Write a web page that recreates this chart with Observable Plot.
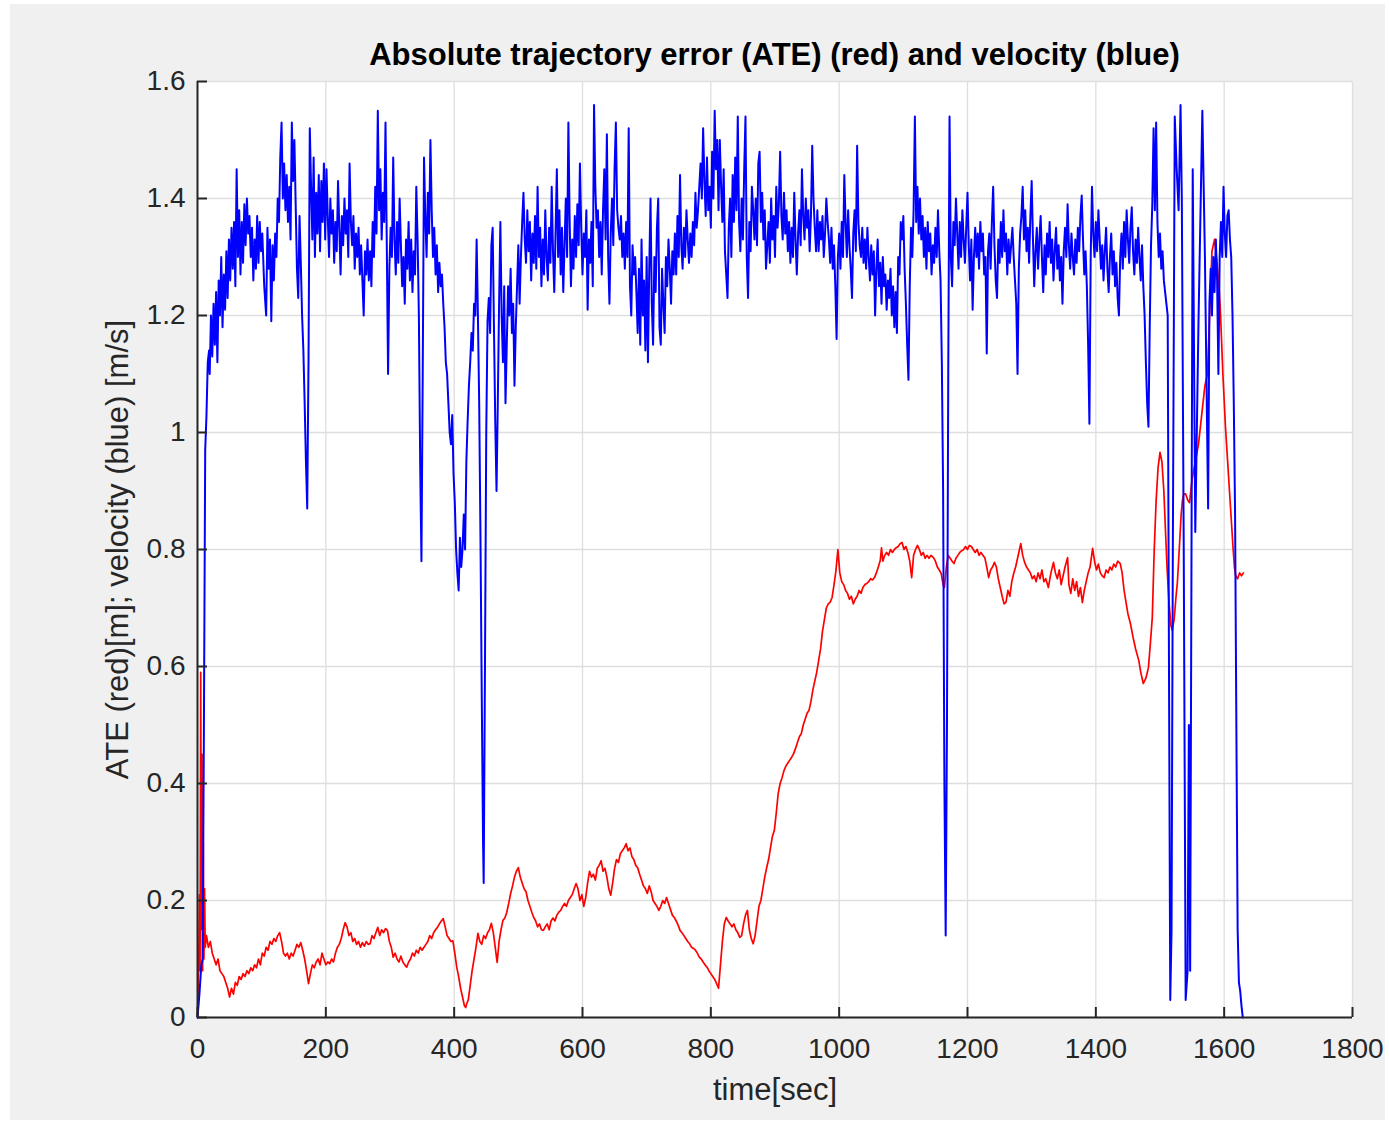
<!DOCTYPE html>
<html>
<head>
<meta charset="utf-8">
<script src="https://cdn.jsdelivr.net/npm/d3@7"></script>
<script src="https://cdn.jsdelivr.net/npm/@observablehq/plot@0.6"></script>
<style>
  html, body { margin: 0; padding: 0; background: #ffffff; }
  #fig { position: absolute; left: 10px; top: 4px; width: 1375px; height: 1116px; background: #f0f0f0; font-family: "Liberation Sans", Arial, Helvetica, sans-serif; }
  #title { position: absolute; left: 187px; width: 1155px; top: 33px; line-height: 36px; text-align: center; font-weight: bold; font-size: 31px; color: #000; z-index: 2; }
  #chart { position: absolute; left: 0; top: 56px; }
</style>
</head>
<body>
<div id="fig">
  <div id="title">Absolute trajectory error (ATE) (red) and velocity (blue)</div>
  <div id="chart"></div>
</div>
<script>
const titleText = "Absolute trajectory error (ATE) (red) and velocity (blue)";
const xLabel = "time[sec]";
const yLabel = "ATE (red)[m]; velocity (blue) [m/s]";
const xTicks = [0, 200, 400, 600, 800, 1000, 1200, 1400, 1600, 1800];
const yTicks = [0, 0.2, 0.4, 0.6, 0.8, 1, 1.2, 1.4, 1.6];

// velocity (blue): [time s, m/s]
const velocity = [
[0,0],[3,0.04],[6,0.09],[8,0.1],[10,0.5],[12,0.97],[14,1.03],[16,1.12],[18,1.14],[19,1.1],[21,1.2],[23,1.13],[25,1.22],[27,1.15],[29,1.24],[31,1.12],[33,1.26],[35,1.2],[37,1.3],[39,1.18],
[41,1.27],[43,1.21],[45,1.31],[47,1.23],[49,1.33],[51,1.26],[53,1.35],[55,1.28],[57,1.36],[59,1.25],[61,1.45],[63,1.3],[65,1.38],[67,1.27],[69,1.36],[71,1.29],[73,1.39],[75,1.32],[77,1.4],[79,1.34],
[81,1.37],[83,1.3],[85,1.35],[87,1.26],[89,1.33],[91,1.28],[93,1.37],[95,1.29],[97,1.36],[99,1.31],[101,1.34],[104,1.25],[107,1.2],[109,1.35],[111,1.28],[113,1.33],[115,1.19],[117,1.32],[119,1.26],[121,1.34],
[123,1.3],[125,1.4],[127,1.36],[129,1.47],[131,1.53],[133,1.4],[135,1.46],[137,1.38],[139,1.44],[141,1.36],[143,1.42],[145,1.33],[147,1.53],[149,1.43],[151,1.5],[153,1.39],[155,1.28],[157,1.23],[159,1.37],[161,1.29],
[163,1.2],[165,1.14],[167,1.05],[169,0.95],[171,0.87],[173,1.12],[175,1.52],[177,1.42],[179,1.33],[181,1.47],[183,1.3],[185,1.41],[187,1.34],[189,1.44],[191,1.31],[193,1.43],[195,1.36],[197,1.46],[199,1.33],[201,1.45],
[203,1.37],[205,1.3],[207,1.4],[209,1.34],[211,1.38],[213,1.29],[215,1.36],[217,1.31],[219,1.43],[221,1.35],[223,1.27],[225,1.37],[227,1.32],[229,1.4],[231,1.34],[233,1.38],[235,1.3],[237,1.46],[239,1.36],[241,1.32],
[243,1.37],[245,1.28],[247,1.34],[249,1.3],[251,1.35],[253,1.27],[255,1.32],[257,1.26],[259,1.2],[261,1.31],[263,1.27],[265,1.33],[267,1.26],[269,1.31],[271,1.25],[273,1.36],[275,1.3],[277,1.42],[279,1.34],[281,1.55],
[283,1.38],[285,1.45],[287,1.33],[289,1.41],[291,1.36],[293,1.53],[295,1.32],[297,1.1],[299,1.28],[301,1.35],[303,1.3],[305,1.47],[307,1.33],[309,1.27],[311,1.36],[313,1.29],[315,1.4],[317,1.32],[319,1.25],[321,1.3],
[323,1.22],[325,1.33],[327,1.28],[329,1.36],[331,1.26],[333,1.33],[335,1.24],[337,1.31],[339,1.27],[341,1.42],[343,1.33],[345,1.2],[347,0.95],[349,0.78],[351,1.1],[353,1.47],[355,1.37],[357,1.3],[359,1.41],[361,1.34],
[363,1.5],[365,1.38],[367,1.3],[369,1.35],[371,1.27],[373,1.32],[375,1.24],[377,1.29],[379,1.25],[381,1.27],[383,1.22],[385,1.18],[387,1.12],[389,1.1],[391,1.05],[393,1.0],[395,0.98],[397,1.03],[399,0.93],[401,0.88],
[403,0.8],[405,0.76],[407,0.73],[409,0.82],[411,0.77],[413,0.8],[415,0.86],[417,0.8],[419,0.95],[421,1.02],[423,1.08],[425,1.12],[427,1.17],[429,1.14],[431,1.22],[433,1.2],[435,1.33],[437,1.2],[439,1.05],[441,0.82],
[443,0.55],[445,0.3],[446,0.23],[448,0.6],[450,1.0],[452,1.19],[454,1.23],[456,1.17],[458,1.32],[460,1.35],[462,1.18],[464,1.02],[466,0.9],[468,1.05],[470,1.22],[472,1.36],[474,1.2],[476,1.12],[478,1.25],[480,1.05],
[482,1.15],[484,1.25],[486,1.2],[488,1.28],[490,1.17],[492,1.22],[494,1.08],[496,1.18],[498,1.25],[500,1.32],[502,1.22],[504,1.3],[506,1.36],[508,1.41],[510,1.33],[512,1.29],[514,1.38],[516,1.31],[518,1.36],[520,1.26],
[522,1.34],[524,1.29],[526,1.37],[528,1.28],[530,1.42],[532,1.3],[534,1.35],[536,1.25],[538,1.33],[540,1.27],[542,1.38],[544,1.3],[546,1.26],[548,1.35],[550,1.29],[552,1.42],[554,1.31],[556,1.24],[558,1.34],[560,1.45],
[562,1.3],[564,1.38],[566,1.27],[568,1.35],[570,1.24],[572,1.32],[574,1.4],[576,1.3],[578,1.53],[580,1.36],[582,1.25],[584,1.33],[586,1.28],[588,1.37],[590,1.3],[592,1.39],[594,1.32],[596,1.46],[598,1.35],[600,1.27],
[602,1.34],[604,1.3],[606,1.38],[608,1.21],[610,1.33],[612,1.29],[614,1.36],[616,1.25],[618,1.56],[620,1.42],[622,1.35],[624,1.38],[626,1.3],[628,1.36],[630,1.27],[632,1.38],[634,1.45],[636,1.33],[638,1.51],[640,1.3],
[642,1.22],[644,1.34],[646,1.4],[648,1.32],[650,1.45],[652,1.53],[654,1.38],[656,1.35],[658,1.33],[660,1.37],[662,1.3],[664,1.34],[666,1.28],[668,1.36],[670,1.3],[672,1.52],[674,1.25],[676,1.2],[678,1.32],[680,1.27],
[682,1.3],[684,1.24],[686,1.17],[688,1.28],[690,1.15],[692,1.33],[694,1.2],[696,1.26],[698,1.14],[700,1.3],[702,1.12],[704,1.28],[706,1.4],[708,1.22],[710,1.15],[712,1.3],[714,1.24],[716,1.35],[718,1.4],[720,1.18],
[722,1.15],[724,1.28],[726,1.22],[728,1.17],[730,1.3],[732,1.25],[734,1.33],[736,1.28],[738,1.22],[740,1.31],[742,1.27],[744,1.34],[746,1.27],[748,1.37],[750,1.3],[752,1.44],[754,1.32],[756,1.28],[758,1.35],[760,1.3],
[762,1.38],[764,1.33],[766,1.29],[768,1.34],[770,1.3],[772,1.36],[774,1.32],[776,1.41],[778,1.35],[780,1.38],[782,1.42],[784,1.46],[786,1.4],[788,1.52],[790,1.43],[792,1.37],[794,1.47],[796,1.38],[798,1.42],[800,1.35],
[802,1.48],[804,1.4],[806,1.55],[808,1.45],[810,1.5],[812,1.38],[814,1.5],[816,1.42],[818,1.36],[820,1.45],[822,1.31],[824,1.27],[826,1.23],[828,1.35],[830,1.4],[832,1.3],[834,1.44],[836,1.36],[838,1.47],[840,1.38],
[842,1.54],[844,1.36],[846,1.31],[848,1.4],[850,1.33],[852,1.45],[854,1.54],[856,1.3],[858,1.23],[860,1.36],[862,1.31],[864,1.42],[866,1.38],[868,1.33],[870,1.4],[872,1.32],[874,1.46],[876,1.48],[878,1.36],[880,1.41],
[882,1.33],[884,1.38],[886,1.28],[888,1.32],[890,1.36],[892,1.29],[894,1.4],[896,1.33],[898,1.37],[900,1.3],[902,1.42],[904,1.35],[906,1.39],[908,1.48],[910,1.37],[912,1.33],[914,1.41],[916,1.34],[918,1.38],[920,1.31],
[922,1.36],[924,1.29],[926,1.35],[928,1.3],[930,1.41],[932,1.33],[934,1.27],[936,1.34],[938,1.38],[940,1.32],[942,1.45],[944,1.37],[946,1.33],[948,1.4],[950,1.35],[952,1.38],[954,1.31],[956,1.37],[958,1.49],[960,1.4],
[962,1.35],[964,1.31],[966,1.38],[968,1.31],[970,1.36],[972,1.33],[974,1.37],[976,1.3],[978,1.34],[980,1.4],[982,1.36],[984,1.33],[986,1.29],[988,1.35],[990,1.28],[992,1.32],[994,1.25],[996,1.16],[998,1.3],[1000,1.34],
[1002,1.28],[1004,1.36],[1006,1.3],[1008,1.44],[1010,1.36],[1012,1.3],[1014,1.38],[1016,1.32],[1018,1.28],[1020,1.23],[1022,1.34],[1024,1.38],[1026,1.31],[1028,1.49],[1030,1.36],[1032,1.32],[1034,1.3],[1036,1.35],[1038,1.29],[1040,1.33],
[1042,1.28],[1044,1.35],[1046,1.3],[1048,1.26],[1050,1.32],[1052,1.27],[1054,1.31],[1056,1.2],[1058,1.28],[1060,1.33],[1062,1.25],[1064,1.29],[1066,1.22],[1068,1.3],[1070,1.25],[1072,1.27],[1074,1.21],[1076,1.26],[1078,1.23],[1080,1.28],
[1082,1.2],[1084,1.25],[1086,1.18],[1088,1.24],[1090,1.17],[1092,1.3],[1094,1.27],[1096,1.36],[1098,1.33],[1100,1.37],[1102,1.28],[1104,1.22],[1106,1.15],[1108,1.09],[1110,1.25],[1112,1.35],[1114,1.3],[1116,1.38],[1118,1.54],[1120,1.36],
[1122,1.42],[1124,1.34],[1126,1.4],[1128,1.33],[1130,1.37],[1132,1.3],[1134,1.35],[1136,1.28],[1138,1.36],[1140,1.31],[1142,1.34],[1144,1.27],[1146,1.32],[1148,1.29],[1150,1.35],[1152,1.3],[1154,1.38],[1156,1.31],[1158,1.26],[1160,1.12],
[1162,0.9],[1164,0.4],[1166,0.14],[1168,0.5],[1170,1.1],[1172,1.54],[1174,1.3],[1176,1.25],[1178,1.36],[1180,1.32],[1182,1.4],[1184,1.34],[1186,1.28],[1188,1.36],[1190,1.3],[1192,1.38],[1194,1.33],[1196,1.29],[1198,1.35],[1200,1.41],
[1202,1.32],[1204,1.26],[1206,1.33],[1208,1.21],[1210,1.3],[1212,1.35],[1214,1.3],[1216,1.34],[1218,1.28],[1220,1.36],[1222,1.31],[1224,1.34],[1226,1.27],[1228,1.3],[1230,1.135],[1232,1.31],[1234,1.34],[1236,1.28],[1238,1.36],[1240,1.42],
[1242,1.32],[1244,1.26],[1246,1.23],[1248,1.33],[1250,1.29],[1252,1.36],[1254,1.3],[1256,1.38],[1258,1.31],[1260,1.34],[1262,1.27],[1264,1.33],[1266,1.29],[1268,1.32],[1270,1.35],[1272,1.3],[1274,1.26],[1276,1.22],[1278,1.1],[1280,1.28],
[1282,1.34],[1284,1.37],[1286,1.42],[1288,1.33],[1290,1.38],[1292,1.31],[1294,1.35],[1296,1.29],[1298,1.37],[1300,1.43],[1302,1.33],[1304,1.25],[1306,1.31],[1308,1.35],[1310,1.28],[1312,1.33],[1314,1.37],[1316,1.3],[1318,1.24],[1320,1.32],
[1322,1.27],[1324,1.34],[1326,1.3],[1328,1.36],[1330,1.29],[1332,1.33],[1334,1.26],[1336,1.31],[1338,1.35],[1340,1.28],[1342,1.32],[1344,1.26],[1346,1.3],[1348,1.22],[1350,1.31],[1352,1.35],[1354,1.3],[1356,1.39],[1358,1.32],[1360,1.28],
[1362,1.34],[1364,1.3],[1366,1.27],[1368,1.33],[1370,1.29],[1372,1.35],[1374,1.31],[1376,1.37],[1378,1.405],[1380,1.33],[1382,1.27],[1384,1.31],[1386,1.25],[1388,1.15],[1390,1.015],[1392,1.3],[1394,1.42],[1396,1.34],[1398,1.3],[1400,1.36],
[1402,1.31],[1404,1.38],[1406,1.33],[1408,1.28],[1410,1.32],[1412,1.26],[1414,1.31],[1416,1.35],[1418,1.28],[1420,1.24],[1422,1.3],[1424,1.34],[1426,1.27],[1428,1.31],[1430,1.25],[1432,1.29],[1434,1.23],[1436,1.2],[1438,1.3],[1440,1.34],
[1442,1.28],[1444,1.36],[1446,1.3],[1448,1.38],[1450,1.33],[1452,1.29],[1454,1.35],[1456,1.385],[1458,1.31],[1460,1.27],[1462,1.33],[1464,1.29],[1466,1.35],[1468,1.3],[1470,1.26],[1472,1.32],[1474,1.25],[1476,1.2],[1478,1.12],[1480,1.05],
[1482,1.01],[1484,1.18],[1486,1.32],[1488,1.39],[1490,1.52],[1492,1.38],[1494,1.53],[1496,1.36],[1498,1.3],[1500,1.34],[1502,1.28],[1504,1.31],[1506,1.26],[1508,1.24],[1510,1.22],[1512,1.2],[1514,0.6],[1516,0.03],[1518,0.15],[1520,0.8],
[1523,1.54],[1526,1.45],[1529,1.38],[1532,1.56],[1534,1.4],[1537,0.8],[1540,0.03],[1543,0.08],[1545,0.5],[1547,0.08],[1551,1.45],[1555,0.83],[1560,1.19],[1566,1.55],[1570,1.3],[1575,0.87],[1577,1.22],[1579,1.28],[1581,1.2],[1583,1.3],
[1585,1.24],[1587,1.33],[1589,1.26],[1591,1.1],[1593,1.3],[1595,1.36],[1597,1.3],[1599,1.42],[1601,1.34],[1603,1.3],[1605,1.37],[1607,1.38],[1609,1.33],[1611,1.3],[1613,1.2],[1615,1.05],[1617,0.86],[1619,0.5],[1621,0.15],[1623,0.06],
[1625,0.045],[1627,0.02],[1629,0.0]
];

// ATE (red): [time s, m]
const ate = [
[0,0],[2,0.1],[3,0.21],[4,0.08],[5,0.59],[6,0.15],[7,0.45],[8,0.08],[9,0.3],[10,0.1],[11,0.22],[12,0.12],[14,0.14],[17,0.12],[20,0.13],[23,0.11],[26,0.1],[29,0.09],[32,0.1],[35,0.08],
[38,0.075],[41,0.07],[44,0.06],[47,0.05],[50,0.035],[53,0.05],[56,0.04],[59,0.06],[62,0.055],[65,0.07],[68,0.065],[71,0.075],[74,0.07],[77,0.08],[80,0.075],[83,0.085],[86,0.08],[89,0.09],[92,0.085],[95,0.1],
[98,0.09],[101,0.11],[104,0.105],[107,0.12],[110,0.115],[113,0.13],[116,0.125],[119,0.135],[122,0.13],[125,0.14],[128,0.145],[131,0.13],[134,0.11],[137,0.105],[140,0.11],[143,0.1],[146,0.11],[149,0.105],[152,0.115],[155,0.125],
[158,0.12],[161,0.128],[164,0.115],[167,0.1],[170,0.08],[173,0.058],[176,0.075],[179,0.09],[182,0.085],[185,0.095],[188,0.1],[191,0.09],[194,0.11],[197,0.1],[200,0.09],[203,0.095],[206,0.092],[209,0.1],[212,0.095],[215,0.11],
[218,0.12],[221,0.125],[224,0.135],[227,0.15],[230,0.162],[233,0.155],[236,0.14],[239,0.145],[242,0.13],[245,0.135],[248,0.125],[251,0.13],[254,0.12],[257,0.128],[260,0.122],[263,0.13],[266,0.125],[269,0.126],[272,0.14],[275,0.135],
[278,0.145],[281,0.154],[284,0.14],[287,0.15],[290,0.145],[293,0.152],[296,0.149],[299,0.13],[302,0.12],[305,0.103],[308,0.11],[311,0.1],[314,0.095],[317,0.105],[320,0.095],[323,0.09],[326,0.086],[329,0.095],[332,0.1],[335,0.11],
[338,0.105],[341,0.115],[344,0.11],[347,0.12],[350,0.115],[353,0.12],[356,0.125],[359,0.13],[362,0.14],[365,0.135],[368,0.145],[371,0.15],[374,0.154],[377,0.16],[380,0.165],[383,0.169],[386,0.155],[389,0.14],[392,0.135],[395,0.13],
[398,0.131],[401,0.11],[404,0.086],[407,0.07],[410,0.05],[413,0.035],[416,0.02],[418,0.017],[420,0.025],[422,0.03],[425,0.055],[428,0.08],[431,0.1],[434,0.12],[437,0.144],[440,0.13],[443,0.125],[446,0.14],[449,0.135],[452,0.145],
[455,0.15],[458,0.161],[461,0.145],[464,0.12],[467,0.094],[470,0.13],[473,0.15],[476,0.166],[479,0.17],[482,0.18],[485,0.195],[488,0.212],[491,0.225],[494,0.24],[497,0.25],[500,0.256],[503,0.24],[506,0.23],[509,0.22],[512,0.215],
[515,0.2],[518,0.19],[521,0.18],[524,0.171],[527,0.165],[530,0.155],[533,0.16],[536,0.15],[539,0.149],[542,0.155],[545,0.16],[548,0.15],[551,0.165],[554,0.17],[557,0.165],[560,0.175],[563,0.18],[566,0.183],[569,0.19],[572,0.195],
[575,0.19],[578,0.2],[581,0.205],[584,0.21],[587,0.22],[590,0.229],[593,0.22],[596,0.2],[599,0.21],[602,0.19],[605,0.205],[608,0.23],[611,0.25],[614,0.24],[617,0.245],[620,0.235],[623,0.255],[626,0.26],[629,0.268],[632,0.25],
[635,0.255],[638,0.24],[641,0.22],[644,0.209],[647,0.23],[650,0.255],[653,0.27],[656,0.265],[659,0.28],[662,0.285],[665,0.29],[668,0.297],[671,0.285],[674,0.29],[677,0.275],[680,0.27],[683,0.26],[686,0.256],[689,0.245],[692,0.235],
[695,0.225],[698,0.22],[701,0.212],[704,0.225],[707,0.215],[710,0.2],[713,0.195],[716,0.19],[719,0.183],[722,0.19],[725,0.2],[728,0.195],[731,0.205],[734,0.195],[737,0.185],[740,0.175],[743,0.171],[746,0.165],[749,0.158],[752,0.149],
[755,0.145],[758,0.14],[761,0.135],[764,0.13],[767,0.126],[770,0.12],[773,0.118],[776,0.115],[779,0.11],[782,0.103],[785,0.1],[788,0.095],[791,0.09],[794,0.086],[797,0.08],[800,0.075],[803,0.07],[806,0.065],[809,0.058],[812,0.05],
[815,0.09],[818,0.13],[821,0.16],[824,0.171],[827,0.165],[830,0.16],[833,0.155],[836,0.16],[839,0.15],[842,0.145],[845,0.137],[848,0.14],[851,0.16],[854,0.175],[857,0.183],[860,0.15],[863,0.135],[866,0.126],[869,0.14],[872,0.165],
[875,0.19],[878,0.2],[881,0.22],[884,0.24],[887,0.256],[890,0.27],[893,0.29],[896,0.31],[899,0.32],[902,0.35],[905,0.383],[908,0.4],[911,0.41],[914,0.422],[917,0.43],[920,0.435],[923,0.44],[926,0.445],[929,0.451],[932,0.46],
[935,0.47],[938,0.48],[941,0.485],[944,0.5],[947,0.51],[950,0.52],[953,0.525],[956,0.54],[959,0.56],[962,0.575],[965,0.59],[968,0.61],[971,0.63],[974,0.66],[977,0.68],[980,0.7],[983,0.707],[986,0.71],[989,0.718],[992,0.74],
[995,0.764],[998,0.8],[1001,0.76],[1004,0.745],[1007,0.74],[1010,0.73],[1013,0.725],[1016,0.715],[1019,0.72],[1022,0.707],[1025,0.715],[1028,0.72],[1031,0.73],[1034,0.725],[1037,0.735],[1040,0.74],[1043,0.742],[1046,0.745],[1049,0.75],[1052,0.748],
[1055,0.752],[1058,0.76],[1061,0.77],[1064,0.781],[1066,0.803],[1068,0.78],[1071,0.79],[1074,0.795],[1077,0.79],[1080,0.8],[1083,0.795],[1086,0.8],[1089,0.803],[1092,0.805],[1095,0.81],[1098,0.812],[1101,0.8],[1104,0.805],[1107,0.795],[1110,0.78],
[1113,0.752],[1116,0.79],[1119,0.8],[1122,0.807],[1125,0.8],[1128,0.79],[1131,0.795],[1134,0.785],[1137,0.79],[1140,0.785],[1143,0.79],[1147,0.786],[1150,0.78],[1153,0.77],[1156,0.765],[1159,0.759],[1162,0.74],[1164,0.735],[1167,0.77],[1170,0.79],
[1173,0.785],[1176,0.78],[1179,0.776],[1182,0.785],[1185,0.79],[1188,0.795],[1191,0.798],[1194,0.8],[1197,0.805],[1200,0.8],[1203,0.807],[1206,0.805],[1209,0.8],[1212,0.795],[1215,0.8],[1218,0.79],[1221,0.795],[1224,0.79],[1227,0.786],[1230,0.77],
[1233,0.752],[1236,0.765],[1239,0.77],[1242,0.778],[1245,0.77],[1248,0.75],[1251,0.735],[1254,0.72],[1257,0.707],[1260,0.71],[1263,0.73],[1266,0.72],[1269,0.745],[1272,0.759],[1275,0.77],[1278,0.785],[1281,0.8],[1283,0.81],[1286,0.79],[1289,0.778],
[1292,0.77],[1295,0.765],[1298,0.76],[1301,0.75],[1304,0.755],[1307,0.745],[1310,0.76],[1313,0.75],[1316,0.765],[1319,0.745],[1322,0.75],[1326,0.735],[1330,0.76],[1334,0.778],[1337,0.76],[1340,0.75],[1343,0.765],[1346,0.74],[1349,0.755],[1352,0.77],
[1356,0.786],[1358,0.74],[1361,0.725],[1364,0.75],[1367,0.73],[1370,0.745],[1373,0.72],[1376,0.735],[1379,0.709],[1382,0.73],[1385,0.745],[1388,0.76],[1391,0.77],[1395,0.802],[1398,0.78],[1401,0.765],[1404,0.775],[1407,0.76],[1410,0.755],[1413,0.752],
[1416,0.765],[1419,0.76],[1422,0.77],[1425,0.765],[1428,0.775],[1431,0.77],[1434,0.78],[1438,0.776],[1441,0.76],[1444,0.73],[1447,0.71],[1450,0.69],[1454,0.673],[1458,0.65],[1462,0.63],[1467,0.61],[1470,0.59],[1474,0.571],[1478,0.58],[1482,0.598],
[1485,0.64],[1488,0.684],[1491,0.8],[1494,0.884],[1497,0.94],[1500,0.966],[1503,0.95],[1506,0.9],[1509,0.82],[1511,0.769],[1514,0.71],[1517,0.67],[1519,0.662],[1522,0.68],[1525,0.72],[1527,0.742],[1530,0.8],[1533,0.86],[1535,0.884],[1537,0.895],
[1540,0.895],[1543,0.885],[1546,0.88],[1550,0.92],[1555,0.95],[1560,0.98],[1565,1.03],[1570,1.08],[1574,1.1],[1578,1.22],[1581,1.31],[1585,1.33],[1589,1.29],[1592,1.25],[1594,1.21],[1598,1.1],[1602,1.01],[1606,0.94],[1610,0.87],[1614,0.8],
[1616,0.77],[1618,0.755],[1621,0.75],[1624,0.76],[1627,0.755],[1630,0.76]
];

const W = 1375, H = 1054;
const mL = 187, mR = 33, mT = 21, mB = 97;
const frameW = W - mL - mR, frameH = H - mT - mB;
const axisColor = "#262626";
const gridColor = "#dedede";
const tickLen = 10;

const chart = Plot.plot({
  width: W,
  height: H,
  marginLeft: mL,
  marginRight: mR,
  marginTop: mT,
  marginBottom: mB,
  style: {background: "transparent", fontFamily: "'Liberation Sans', Arial, Helvetica, sans-serif", fontSize: "28px", color: axisColor, overflow: "visible"},
  x: {domain: [xTicks[0], xTicks[xTicks.length - 1]]},
  y: {domain: [yTicks[0], yTicks[yTicks.length - 1]]},
  marks: [
    Plot.frame({fill: "white", stroke: null}),
    Plot.gridX(xTicks, {stroke: gridColor, strokeOpacity: 1, strokeWidth: 1.3}),
    Plot.gridY(yTicks, {stroke: gridColor, strokeOpacity: 1, strokeWidth: 1.3}),
    Plot.line(ate, {x: d => d[0], y: d => d[1], stroke: "#ff0000", strokeWidth: 1.7}),
    Plot.line(velocity, {x: d => d[0], y: d => d[1], stroke: "#0000ff", strokeWidth: 2}),
    Plot.ruleX([xTicks[0]], {stroke: axisColor, strokeWidth: 2}),
    Plot.ruleY([yTicks[0]], {stroke: axisColor, strokeWidth: 2}),
    Plot.tickX(xTicks, {x: d => d, stroke: axisColor, strokeWidth: 2, insetTop: frameH - tickLen}),
    Plot.tickY(yTicks, {y: d => d, stroke: axisColor, strokeWidth: 2, insetRight: frameW - tickLen}),
    Plot.axisX(xTicks, {tickSize: 0, tickPadding: 21, tickFormat: d => String(d), label: null, fontSize: 28, color: axisColor}),
    Plot.axisX({tickSize: 0, ticks: [], label: xLabel, labelAnchor: "center", labelArrow: "none", labelOffset: 82, fontSize: 31, color: axisColor}),
    Plot.axisY(yTicks, {tickSize: 0, tickPadding: 12, tickFormat: d => String(d), label: null, fontSize: 28, color: axisColor}),
    Plot.axisY({tickSize: 0, ticks: [], label: yLabel, labelAnchor: "center", labelArrow: "none", labelOffset: 92, fontSize: 31, color: axisColor})
  ]
});
document.getElementById("chart").appendChild(chart);
</script>
</body>
</html>
